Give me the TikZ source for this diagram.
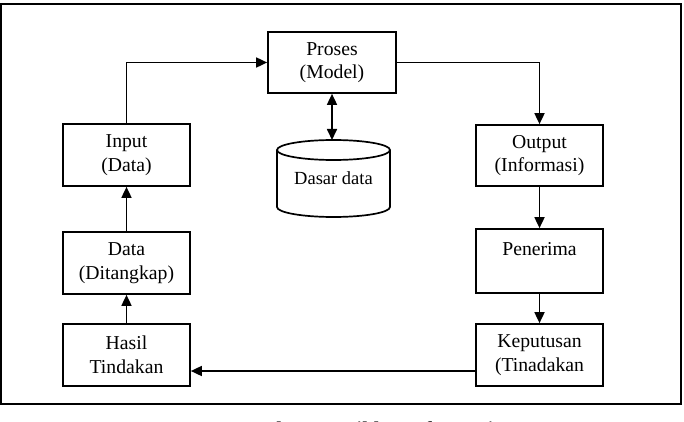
\documentclass[tikz,border=0pt]{standalone}
\usepackage{fontspec}
\setmainfont{Liberation Serif}
\usetikzlibrary{arrows.meta}
\begin{document}
\begin{tikzpicture}[x=1pt,y=-1pt,
  box/.style={draw,line width=1.7pt,inner sep=0pt,align=center,
    minimum width=127pt,minimum height=62pt,
    font=\fontsize{19.7}{23.5}\selectfont},
  arr/.style={line width=1.7pt,-{Triangle[length=11pt,width=10pt]}},
  darr/.style={line width=1.7pt,{Triangle[length=11pt,width=10pt]}-{Triangle[length=11pt,width=10pt]}},
  line/.style={line width=1.7pt}]
\useasboundingbox (0,0) rectangle (684,422);
\draw[line width=1.8pt] (1,4) rectangle (681,404);
% boxes
\node[box,minimum width=128pt,minimum height=61pt] (proses) at (332,62.5) {Proses\\(Model)};
\node[box] (input) at (126.5,155) {Input\\(Data)};
\node[box] (data) at (126.5,263) {Data\\(Ditangkap)};
\node[box] (hasil) at (126.5,355) {Hasil\\Tindakan};
\node[box,minimum height=61pt] (output) at (539.5,155.5) {Output\\(Informasi)};
\node[box,minimum height=64pt] (penerima) at (539.5,261) {Penerima\\~};
\node[box] (keputusan) at (539.5,355) {Keputusan\\(Tinadakan};
% database cylinder
\draw[line] (333.5,150) ellipse [x radius=56.5, y radius=10];
\draw[line] (277,150) -- (277,207) arc[start angle=180,end angle=0,x radius=56.5,y radius=10] -- (390,150);
\node[font=\fontsize{18.5}{22}\selectfont,inner sep=0pt] (db) at (333.5,178) {Dasar data};
\coordinate (dbtop) at (333.5,140);
% connectors
\draw[arr] (input.north) |- (proses.west);
\draw[arr] (proses.east) -| (output.north);
\draw[darr] (proses.south) -- (proses.south |- dbtop);
\draw[arr] (output.south) -- (penerima.north);
\draw[arr] (penerima.south) -- (keputusan.north);
\draw[arr] ([yshift=-16pt]keputusan.west) -- ([yshift=-16pt]hasil.east);
\draw[arr] (hasil.north) -- (data.south);
\draw[arr] (data.north) -- (input.south);
% caption (cut off by the page edge, as in the reference)
\node[anchor=base west,inner sep=0pt,font=\fontsize{21}{25}\selectfont\bfseries] (caption) at (232,436) {Gambar 2.1 Siklus Informasi};
\end{tikzpicture}
\end{document}
